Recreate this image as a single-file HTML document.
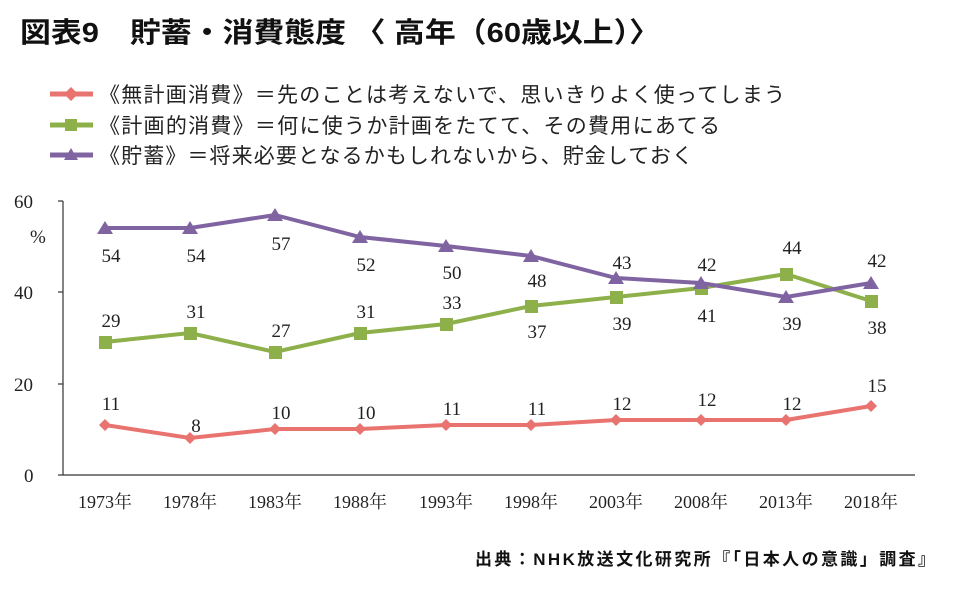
<!DOCTYPE html><html><head><meta charset="utf-8"><style>
body{margin:0;background:#fff;width:960px;height:585px;overflow:hidden}
</style></head><body>
<svg width="960" height="585" xmlns="http://www.w3.org/2000/svg">
<text x="20" y="42" textLength="640" lengthAdjust="spacingAndGlyphs" font-family="'Liberation Sans','Noto Sans CJK JP',sans-serif" font-weight="bold" font-size="28" fill="#111">図表9　貯蓄・消費態度 〈 高年（60歳以上）〉</text>
<g font-family="'Liberation Sans','Noto Sans CJK JP',sans-serif" font-size="21" fill="#222">
<line x1="50" y1="94" x2="93" y2="94" stroke="#e8736f" stroke-width="5"/><polygon points="71,87 78,94 71,101 64,94" fill="#e8736f"/>
<text x="99" y="102" textLength="686" lengthAdjust="spacing">《無計画消費》＝先のことは考えないで、思いきりよく使ってしまう</text>
<line x1="50" y1="125" x2="93" y2="125" stroke="#8db04a" stroke-width="5"/><rect x="65" y="119" width="12" height="12" fill="#8db04a"/>
<text x="99" y="133" textLength="621" lengthAdjust="spacing">《計画的消費》＝何に使うか計画をたてて、その費用にあてる</text>
<line x1="50" y1="155" x2="93" y2="155" stroke="#8064a2" stroke-width="5"/><polygon points="71,148 78,160 64,160" fill="#8064a2"/>
<text x="99" y="163" textLength="594" lengthAdjust="spacing">《貯蓄》＝将来必要となるかもしれないから、貯金しておく</text>
</g>
<g stroke="#333" stroke-width="1.2">
<line x1="63" y1="201" x2="63" y2="475"/><line x1="63" y1="475" x2="915" y2="475"/>
<line x1="58" y1="201" x2="63" y2="201"/><line x1="58" y1="292" x2="63" y2="292"/><line x1="58" y1="384" x2="63" y2="384"/><line x1="58" y1="475" x2="63" y2="475"/>
</g>
<g font-family="'Liberation Serif',serif" font-size="19" fill="#222">
<text x="14" y="208">60</text><text x="30" y="243">%</text><text x="14" y="299">40</text><text x="14" y="391">20</text><text x="24" y="482">0</text>
</g>
<g font-family="'Liberation Serif','Noto Serif CJK JP',serif" font-size="18" fill="#222" text-anchor="middle">
<text x="105" y="508">1973年</text><text x="190" y="508">1978年</text><text x="275" y="508">1983年</text><text x="360" y="508">1988年</text><text x="446" y="508">1993年</text><text x="531" y="508">1998年</text><text x="616" y="508">2003年</text><text x="701" y="508">2008年</text><text x="786" y="508">2013年</text><text x="871" y="508">2018年</text>
</g>
<polyline fill="none" stroke="#e8736f" stroke-width="4" points="105,425 190,438 275,429 360,429 446,425 531,425 616,420 701,420 786,420 871,406"/>
<g fill="#e8736f">
<polygon points="105,419 111,425 105,431 99,425"/><polygon points="190,432 196,438 190,444 184,438"/><polygon points="275,423 281,429 275,435 269,429"/><polygon points="360,423 366,429 360,435 354,429"/><polygon points="446,419 452,425 446,431 440,425"/><polygon points="531,419 537,425 531,431 525,425"/><polygon points="616,414 622,420 616,426 610,420"/><polygon points="701,414 707,420 701,426 695,420"/><polygon points="786,414 792,420 786,426 780,420"/><polygon points="871,400 877,406 871,412 865,406"/>
</g>
<polyline fill="none" stroke="#8db04a" stroke-width="4" points="105,342 190,333 275,352 360,333 446,324 531,306 616,297 701,288 786,274 871,301"/>
<g fill="#8db04a">
<rect x="99" y="336" width="13" height="13"/><rect x="184" y="327" width="13" height="13"/><rect x="269" y="346" width="13" height="13"/><rect x="354" y="327" width="13" height="13"/><rect x="440" y="318" width="13" height="13"/><rect x="525" y="300" width="13" height="13"/><rect x="610" y="291" width="13" height="13"/><rect x="695" y="282" width="13" height="13"/><rect x="780" y="268" width="13" height="13"/><rect x="865" y="295" width="13" height="13"/>
</g>
<polyline fill="none" stroke="#8064a2" stroke-width="4" points="105,228 190,228 275,215 360,237 446,246 531,256 616,278 701,283 786,297 871,283"/>
<g fill="#8064a2">
<polygon points="105,221 113,234 97,234"/><polygon points="190,221 198,234 182,234"/><polygon points="275,208 283,221 267,221"/><polygon points="360,230 368,243 352,243"/><polygon points="446,239 454,252 438,252"/><polygon points="531,249 539,262 523,262"/><polygon points="616,271 624,284 608,284"/><polygon points="701,276 709,289 693,289"/><polygon points="786,290 794,303 778,303"/><polygon points="871,276 879,289 863,289"/>
</g>
<g font-family="'Liberation Serif',serif" font-size="19" fill="#222" text-anchor="middle">
<text x="111" y="262">54</text><text x="196" y="262">54</text><text x="281" y="250">57</text><text x="366" y="271">52</text><text x="452" y="279">50</text><text x="537" y="287">48</text><text x="622" y="269">43</text><text x="707" y="271">42</text><text x="792" y="330">39</text><text x="877" y="267">42</text>
<text x="111" y="327">29</text><text x="196" y="318">31</text><text x="281" y="337">27</text><text x="366" y="318">31</text><text x="452" y="309">33</text><text x="537" y="338">37</text><text x="622" y="330">39</text><text x="707" y="322">41</text><text x="792" y="254">44</text><text x="877" y="334">38</text>
<text x="111" y="410">11</text><text x="196" y="432">8</text><text x="281" y="419">10</text><text x="366" y="419">10</text><text x="452" y="415">11</text><text x="537" y="415">11</text><text x="622" y="410">12</text><text x="707" y="406">12</text><text x="792" y="410">12</text><text x="877" y="392">15</text>
</g>
<text x="475" y="565" textLength="460" lengthAdjust="spacing" font-family="'Liberation Sans','Noto Sans CJK JP',sans-serif" font-weight="bold" font-size="17" fill="#111">出典：NHK放送文化研究所『「日本人の意識」調査』</text>
</svg>
</body></html>
